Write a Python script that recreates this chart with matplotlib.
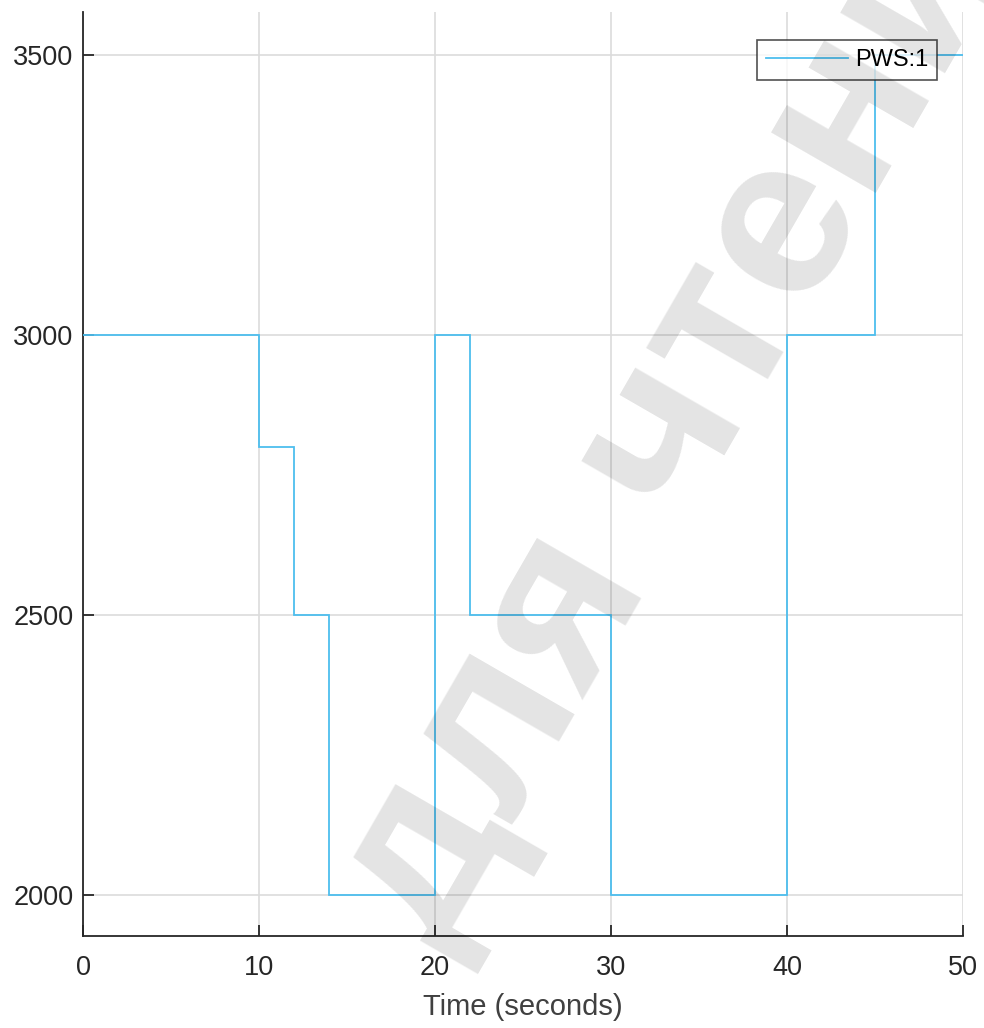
import matplotlib.pyplot as plt

# data
t_edges = [0, 10, 12, 14, 20, 22, 30, 40, 45, 50]
pws_vals = [3000, 2800, 2500, 2000, 3000, 2500, 2000, 3000, 3500]
y_ticks = [2000, 2500, 3000, 3500]
x_ticks = [0, 10, 20, 30, 40, 50]

plt.rcParams['font.family'] = ['Liberation Sans', 'DejaVu Sans']

fig = plt.figure(figsize=(9.84, 10.28), dpi=100)
ax = fig.add_axes([0.0844, 0.0895, 0.8943, 0.8985])

# step line (value held until next edge)
ax.stairs(pws_vals, t_edges, color='#4DBEEE', linewidth=1.3, label='PWS:1', zorder=3, baseline=None)

ax.set_xlim(0, 50)
ax.set_ylim(1927, 3577)
ax.set_xticks(x_ticks)
ax.set_yticks(y_ticks)
ax.grid(True, color='#dcdcdc', linewidth=1.2)
ax.set_axisbelow(True)

for s in ['top', 'right']:
    ax.spines[s].set_visible(False)
for s in ['left', 'bottom']:
    ax.spines[s].set_color('#262626')
    ax.spines[s].set_linewidth(1.3)
ax.tick_params(direction='in', length=8, width=1.3, color='#262626',
               labelsize=19.5, labelcolor='#262626')
ax.tick_params(axis='x', pad=14)
ax.tick_params(axis='y', pad=7)

ax.set_xlabel('Time (seconds)', fontsize=21, color='#404040', labelpad=8)

leg = ax.legend(loc='upper right', bbox_to_anchor=(0.9705, 0.9697), borderaxespad=0,
                fontsize=17, frameon=True, fancybox=False, edgecolor='#262626',
                handlelength=3.45, borderpad=0.38, handletextpad=0.3)
leg.get_frame().set_linewidth(1.2)
leg.set_zorder(5)

# watermark, semi transparent over everything
fig.text(0.4457, 0.0735, 'для чтения', fontsize=165, fontweight='bold',
         family=['Liberation Sans Narrow', 'Liberation Sans'], color='black', alpha=0.11,
         rotation=60, rotation_mode='anchor', ha='left', va='baseline', zorder=10)

fig.savefig('out.png', dpi=100)
